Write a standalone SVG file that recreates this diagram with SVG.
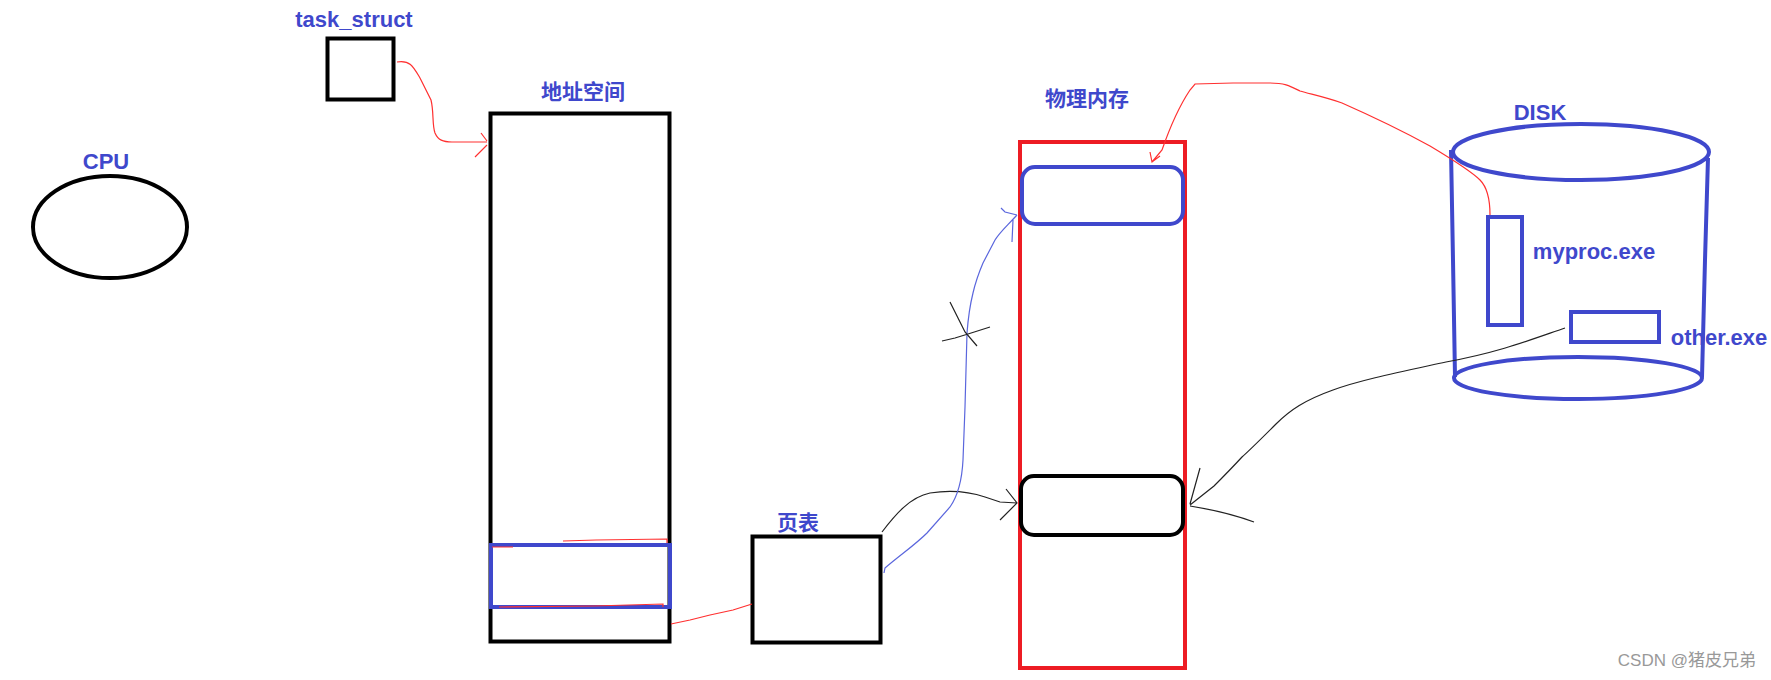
<svg xmlns="http://www.w3.org/2000/svg" width="1771" height="680" viewBox="0 0 1771 680">
<style>
.lbl{font-family:"Liberation Sans","Noto Sans CJK SC",sans-serif;font-weight:bold;font-size:22px;fill:#3f48cc;text-anchor:middle}
.cjk{font-family:"Noto Sans CJK SC","Liberation Sans",sans-serif;font-weight:bold;font-size:21px;fill:#3f48cc;text-anchor:middle}
.blk{fill:none;stroke:#000;stroke-width:4}
.blu{fill:none;stroke:#3f48cc;stroke-width:4}
.red{fill:none;stroke:#ed1c24;stroke-width:4}
.cr{fill:none;stroke:#ff3030;stroke-width:1.2}
.cb{fill:none;stroke:#5a66dd;stroke-width:1.2}
.ck{fill:none;stroke:#222;stroke-width:1.2}
</style>
<rect width="1771" height="680" fill="#fff"/>
<g id="cpu">
<text class="lbl" x="106" y="169">CPU</text>
<ellipse class="blk" cx="110" cy="227" rx="77" ry="51"/>
</g>
<g id="task_struct">
<text class="lbl" x="354" y="27">task_struct</text>
<rect class="blk" x="327.5" y="38.5" width="66" height="61"/>
</g>
<g id="address_space">
<text class="cjk" x="583" y="99">地址空间</text>
<rect class="blk" x="490.5" y="113.5" width="179" height="528"/>
<rect class="blu" x="491" y="545" width="179" height="62"/>
<path class="cr" d="M563,541 L596,540 L667,539 L667,543 M492,547 L513,547 M499,607 L594,606 L663,604 L663,607"/>
</g>
<g id="page_table">
<text class="cjk" x="798" y="530">页表</text>
<rect class="blk" x="752.5" y="536.5" width="128" height="106"/>
</g>
<g id="physical_memory">
<text class="cjk" x="1087" y="106">物理内存</text>
<rect class="red" x="1020" y="142" width="165" height="526"/>
<rect class="blu" x="1022" y="167" width="161" height="57" rx="13"/>
<rect class="blk" x="1021" y="476" width="162" height="59" rx="13"/>
</g>
<g id="disk">
<text class="lbl" x="1540" y="120">DISK</text>
<ellipse class="blu" cx="1581" cy="152" rx="128" ry="28"/>
<ellipse class="blu" cx="1578" cy="378" rx="124" ry="21"/>
<path class="blu" d="M1451,150 L1453,260 L1455,377 M1708,158 L1705,260 L1702,377"/>
<rect class="blu" x="1488" y="217" width="34" height="108"/>
<text class="lbl" x="1594" y="259">myproc.exe</text>
<rect class="blu" x="1571" y="312" width="88" height="30"/>
<text class="lbl" x="1719" y="345">other.exe</text>
</g>
<g id="connectors">
<path class="cr" d="M397,62 C410,60 413,66 420,78 L431,100 C434,112 432,125 435,133 C438,140 443,142 452,142 L487,142 M481,133 L487,141 M475,157 L487,145"/>
<path class="cr" d="M671,624 L690,620 L710,615 L733,610 L752,604"/>
<path class="ck" d="M882,532 C895,515 910,497 930,493 C950,490 970,492 985,497 L1000,502 L1017,503 M1006,489 L1017,503 L1000,520"/>
<path class="cb" d="M884,573 L885,568 C900,555 915,545 927,533 L950,507 C957,497 962,480 963,460 L965,407 L967,333 C968,320 970,305 973,293 C976,280 980,270 983,263 L995,240 C1000,232 1005,228 1017,215 M1001,208 L1005,212 L1017,215 M1012,242 L1013,220"/>
<path class="ck" d="M950,302 L958,318 L965,332 L977,346 M942,341 L955,338 L968,334 L990,327"/>
<path class="cr" d="M1490,215 C1490,200 1488,188 1480,180 C1470,170 1450,158 1430,146 C1410,135 1385,122 1342,103 C1325,97 1310,94 1300,91 C1290,86 1285,83 1270,83 L1233,83 L1195,84 L1190,90 C1180,105 1170,127 1162,150 L1152,162 M1150,152 L1152,162 L1160,156"/>
<path class="ck" d="M1565,328 C1530,340 1500,352 1446,362 C1400,372 1360,380 1333,390 C1305,400 1290,410 1276,424 C1262,438 1250,450 1242,457 C1230,470 1220,480 1214,486 L1190,505 M1200,468 L1190,504 M1190,506 C1215,510 1235,515 1254,522"/>
</g>
<text x="1756" y="666" font-family="Liberation Sans,Noto Sans CJK SC,sans-serif" font-size="17" fill="#999" text-anchor="end">CSDN @猪皮兄弟</text>
</svg>
